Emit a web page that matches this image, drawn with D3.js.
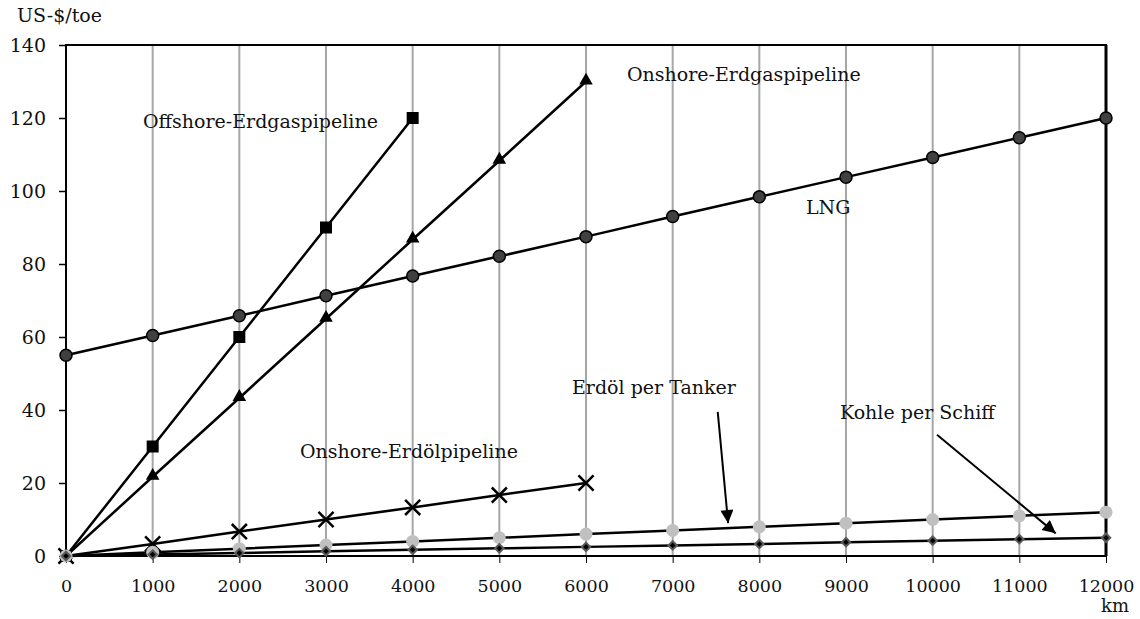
<!DOCTYPE html>
<html>
<head>
<meta charset="utf-8">
<script src="https://cdn.jsdelivr.net/npm/d3@7"></script>
<style>
  body { margin: 0; background: #fff; }
  text { font-family: "DejaVu Serif", serif; fill: #111; }
</style>
</head>
<body>
<script>
// distances in km
const distances = [0, 1000, 2000, 3000, 4000, 5000, 6000, 7000, 8000, 9000, 10000, 11000, 12000];

// transport cost, US-$/toe
const offshoreGas = [0, 30, 60, 90, 120];
const onshoreGas = [0, 21.7, 43.3, 65, 86.7, 108.3, 130];
const lng = [55, 60.4, 65.8, 71.3, 76.7, 82.1, 87.5, 93, 98.4, 103.8, 109.2, 114.6, 120];
const onshoreOil = [0, 3.3, 6.7, 10, 13.3, 16.7, 20];
const oilTanker = [0, 1, 2, 3, 4, 5, 6, 7, 8, 9, 10, 11, 12];
const coalShip = [0, 0.4, 0.8, 1.3, 1.7, 2.1, 2.5, 2.9, 3.3, 3.8, 4.2, 4.6, 5];

const yTicks = [0, 20, 40, 60, 80, 100, 120, 140];
const xTicks = distances;

const width = 1140;
const height = 619;
const margin = {top: 45, right: 34, bottom: 63, left: 66};

const x = d3.scaleLinear().domain([0, 12000]).range([margin.left, width - margin.right]);
const y = d3.scaleLinear().domain([0, 140]).range([height - margin.bottom, margin.top]);

const svg = d3.select("body").append("svg")
    .attr("width", width)
    .attr("height", height);

// grid
svg.append("g")
  .selectAll("line")
  .data(xTicks.filter(d => d > 0 && d < 12000))
  .join("line")
    .attr("x1", d => x(d)).attr("x2", d => x(d))
    .attr("y1", y(140)).attr("y2", y(0))
    .attr("stroke", "#a6a6a6")
    .attr("stroke-width", 2);

// axes
svg.append("g")
    .attr("transform", `translate(${x(0)},0)`)
    .call(d3.axisLeft(y).tickValues(yTicks).tickSize(7).tickPadding(13))
    .call(g => g.select(".domain").remove())
    .call(g => g.selectAll("line").attr("stroke", "#000").attr("stroke-width", 1.5))
    .call(g => g.selectAll("text").attr("font-size", 19).attr("font-family", "DejaVu Serif").attr("dy", "0.35em"));

svg.append("g")
    .attr("transform", `translate(0,${y(0)})`)
    .call(d3.axisBottom(x).tickValues(xTicks).tickSize(7).tickPadding(17).tickFormat(d3.format("d")))
    .call(g => g.select(".domain").remove())
    .call(g => g.selectAll("line").attr("stroke", "#000").attr("stroke-width", 1))
    .call(g => g.selectAll("text").attr("font-size", 17.5).attr("font-family", "DejaVu Serif"));

// frame
svg.append("rect")
    .attr("x", x(0)).attr("y", y(140))
    .attr("width", x(12000) - x(0)).attr("height", y(0) - y(140))
    .attr("fill", "none")
    .attr("stroke", "#000")
    .attr("stroke-width", 2);
svg.append("line")
    .attr("x1", x(12000)).attr("x2", x(12000))
    .attr("y1", y(140)).attr("y2", y(0))
    .attr("stroke", "#000").attr("stroke-width", 3);

const series = [
  {name: "offshoreGas", values: offshoreGas, marker: "square"},
  {name: "onshoreGas", values: onshoreGas, marker: "triangle"},
  {name: "lng", values: lng, marker: "circle"},
  {name: "onshoreOil", values: onshoreOil, marker: "cross"},
  {name: "oilTanker", values: oilTanker, marker: "lightcircle"},
  {name: "coalShip", values: coalShip, marker: "diamond"}
];

const line = d3.line()
    .x((d, i) => x(distances[i]))
    .y(d => y(d));

svg.append("g")
  .selectAll("path")
  .data(series)
  .join("path")
    .attr("d", d => line(d.values))
    .attr("fill", "none")
    .attr("stroke", "#000")
    .attr("stroke-width", 2.5);

function drawMarkers(s) {
  const g = svg.append("g");
  const pts = s.values.map((v, i) => [x(distances[i]), y(v)]);
  if (s.marker === "square") {
    g.selectAll("path").data(pts).join("path")
      .attr("transform", d => `translate(${d})`)
      .attr("d", d3.symbol(d3.symbolSquare, 144))
      .attr("fill", "#000");
  } else if (s.marker === "triangle") {
    g.selectAll("path").data(pts).join("path")
      .attr("transform", d => `translate(${d[0]},${d[1] - 1})`)
      .attr("d", d3.symbol(d3.symbolTriangle, 80))
      .attr("fill", "#000");
  } else if (s.marker === "circle") {
    g.selectAll("circle").data(pts).join("circle")
      .attr("cx", d => d[0]).attr("cy", d => d[1]).attr("r", 6)
      .attr("fill", "#404040").attr("stroke", "#000").attr("stroke-width", 1.5);
  } else if (s.marker === "cross") {
    g.selectAll("path").data(pts).join("path")
      .attr("transform", d => `translate(${d})`)
      .attr("d", d3.symbol(d3.symbolTimes, 150))
      .attr("fill", "none").attr("stroke", "#000").attr("stroke-width", 2.5);
  } else if (s.marker === "lightcircle") {
    g.selectAll("circle").data(pts).join("circle")
      .attr("cx", d => d[0]).attr("cy", d => d[1]).attr("r", 6.5)
      .attr("fill", "#c0c0c0");
  } else if (s.marker === "diamond") {
    g.selectAll("path.o").data(pts).join("path").attr("class", "o")
      .attr("transform", d => `translate(${d}) rotate(45)`)
      .attr("d", d3.symbol(d3.symbolSquare, 64))
      .attr("fill", "#5a5a5a");
    g.selectAll("path.i").data(pts).join("path").attr("class", "i")
      .attr("transform", d => `translate(${d}) rotate(45)`)
      .attr("d", d3.symbol(d3.symbolSquare, 16))
      .attr("fill", "#000");
  }
}
series.forEach(drawMarkers);

// labels
const labels = [
  {text: "US-$/toe", px: 17, py: 22, anchor: "start"},
  {text: "Offshore-Erdgaspipeline", px: 143, py: 128, anchor: "start"},
  {text: "Onshore-Erdgaspipeline", px: 627, py: 81, anchor: "start"},
  {text: "LNG", px: 806, py: 214, anchor: "start"},
  {text: "Erdöl per Tanker", px: 572, py: 394, anchor: "start"},
  {text: "Kohle per Schiff", px: 840, py: 419, anchor: "start"},
  {text: "Onshore-Erdölpipeline", px: 300, py: 458, anchor: "start"},
  {text: "km", px: 1129, py: 612, anchor: "end"}
];
svg.append("g")
  .selectAll("text")
  .data(labels)
  .join("text")
    .attr("x", d => d.px).attr("y", d => d.py)
    .attr("font-size", d => d.text === "km" ? 18 : 19)
    .attr("text-anchor", d => d.anchor)
    .text(d => d.text);

// arrows (data coordinates)
const arrows = [
  {from: [7520, 39.5], to: [7640, 9]},
  {from: [10050, 33.2], to: [11420, 6.2]}
];
svg.append("defs").append("marker")
    .attr("id", "head")
    .attr("viewBox", "0 0 10 10")
    .attr("refX", 10).attr("refY", 5)
    .attr("markerWidth", 7.5).attr("markerHeight", 6.5)
    .attr("markerUnits", "strokeWidth")
    .attr("orient", "auto")
  .append("path")
    .attr("d", "M0,0L10,5L0,10Z")
    .attr("fill", "#000");

svg.append("g")
  .selectAll("line")
  .data(arrows)
  .join("line")
    .attr("x1", d => x(d.from[0])).attr("y1", d => y(d.from[1]))
    .attr("x2", d => x(d.to[0])).attr("y2", d => y(d.to[1]))
    .attr("stroke", "#000")
    .attr("stroke-width", 2)
    .attr("marker-end", "url(#head)");
</script>
</body>
</html>
